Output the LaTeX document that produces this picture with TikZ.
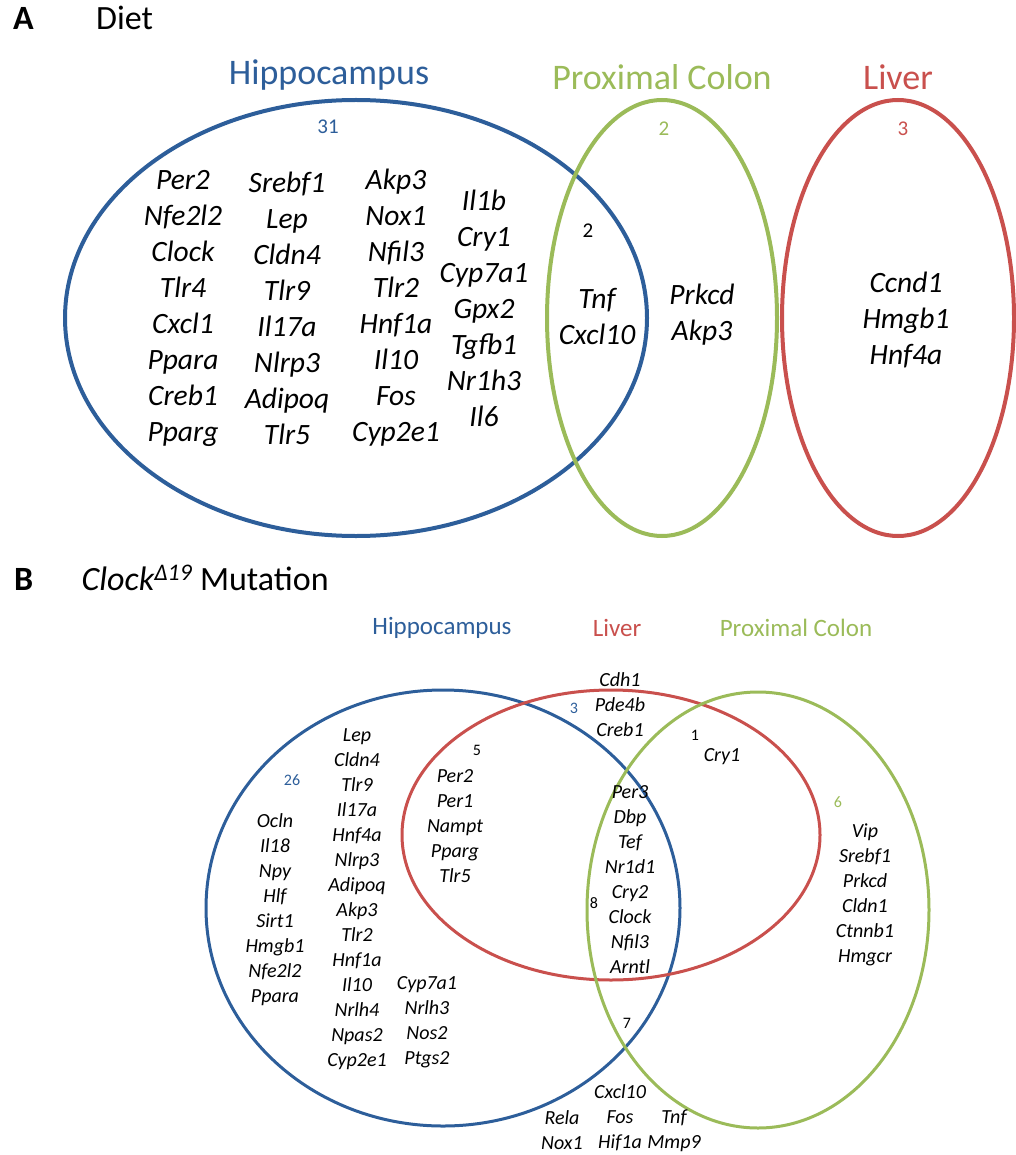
\documentclass[tikz,border=0pt]{standalone}
\usepackage{fontspec}
\setmainfont{Carlito}
\usepackage{tikz}
\usetikzlibrary{positioning}
\definecolor{hipBlue}{HTML}{2D5E9A}
\definecolor{colGreen}{HTML}{9BBB59}
\definecolor{livRed}{HTML}{C9504D}

\begin{document}
\begin{tikzpicture}[x=1pt, y=-1pt,
    ttl/.style={font=\fontsize{34}{36}\selectfont, inner sep=0pt, anchor=base west},
    setA/.style={line width=4pt},
    setB/.style={line width=3pt},
    lblA/.style={font=\fontsize{36}{40}\selectfont, inner sep=0pt},
    lblB/.style={font=\fontsize{25}{28}\selectfont, inner sep=0pt},
    geneA/.style={font=\fontsize{29.5}{36}\selectfont\itshape, align=center, inner sep=0pt},
    geneB/.style={font=\fontsize{20}{25}\selectfont\itshape, align=center, inner sep=0pt},
    numA/.style={font=\fontsize{21}{24}\selectfont, inner sep=0pt},
    numB/.style={font=\fontsize{16}{18}\selectfont, inner sep=0pt},
]
\useasboundingbox (0,0) rectangle (1015,1155);
% panel A
\node[ttl, font=\fontsize{34}{36}\selectfont\bfseries] (pA) at (13,30) {A};
\node[ttl, right=62pt of pA.base east, anchor=base west] (dietT) {Diet};
\draw[setA, hipBlue] (356,318) ellipse [x radius=291, y radius=218];
\draw[setA, colGreen] (662,318) ellipse [x radius=115, y radius=218];
\draw[setA, livRed] (898,318) ellipse [x radius=116, y radius=218];
\node[lblA, text=hipBlue] (hipA) at (329,75) {Hippocampus};
\node[lblA, text=colGreen] (colA) at (662,77) {Proximal Colon};
\node[lblA, text=livRed] (livA) at (898,77) {Liver};
\node[numA, text=hipBlue] (nHipA) at (328,127) {31};
\node[numA, text=colGreen] (nColA) at (664,129) {2};
\node[numA, text=livRed] (nLivA) at (903,129) {3};
\node[numA] (nHcA) at (588,231) {2};
\node[geneA] (gA1) at (183,308) {Per2\\Nfe2l2\\Clock\\Tlr4\\Cxcl1\\Ppara\\Creb1\\Pparg};
\node[geneA] (gA2) at (287,308) {Srebf1\\Lep\\Cldn4\\Tlr9\\Il17a\\Nlrp3\\Adipoq\\Tlr5};
\node[geneA] (gA3) at (396,308) {Akp3\\Nox1\\Nfil3\\Tlr2\\Hnf1a\\Il10\\Fos\\Cyp2e1};
\node[geneA] (gA4) at (484,308) {Il1b\\Cry1\\Cyp7a1\\Gpx2\\Tgfb1\\Nr1h3\\Il6};
\node[geneA] (gHcA) at (597,316) {Tnf\\Cxcl10};
\node[geneA] (gColA) at (702,315) {Prkcd\\Akp3};
\node[geneA] (gLivA) at (906,320) {Ccnd1\\Hmgb1\\Hnf4a};
% panel B
\node[ttl, font=\fontsize{34}{36}\selectfont\bfseries] (pB) at (14,590) {B};
\node[ttl, right=48pt of pB.base east, anchor=base west] (mutT) {{\itshape Clock\textsuperscript{Δ19}} Mutation};
\draw[setB, hipBlue] (443,908) ellipse [x radius=237, y radius=218];
\draw[setB, livRed] (611,835) ellipse [x radius=209, y radius=145];
\draw[setB, colGreen] (758,910) ellipse [x radius=171, y radius=218];
\node[lblB, text=hipBlue] (hipB) at (442,628) {Hippocampus};
\node[lblB, text=livRed] (livB) at (617,628) {Liver};
\node[lblB, text=colGreen] (colB) at (796,628) {Proximal Colon};
\node[numB, text=hipBlue] (nHipB) at (292,780) {26};
\node[numB] (nHlB) at (477,750) {5};
\node[numB, text=hipBlue] (nHlOnlyB) at (574,708) {3};
\node[numB] (nLcB) at (695,735) {1};
\node[numB] (nAllB) at (594,903) {8};
\node[numB, text=colGreen] (nColB) at (838,802) {6};
\node[numB] (nHcB) at (627,1023) {7};
\node[geneB] (gB1) at (275,910) {Ocln\\Il18\\Npy\\Hlf\\Sirt1\\Hmgb1\\Nfe2l2\\Ppara};
\node[geneB] (gB2) at (357,899.5) {Lep\\Cldn4\\Tlr9\\Il17a\\Hnf4a\\Nlrp3\\Adipoq\\Akp3\\Tlr2\\Hnf1a\\Il10\\Nrlh4\\Npas2\\Cyp2e1};
\node[geneB] (gB3) at (427,1022.5) {Cyp7a1\\Nrlh3\\Nos2\\Ptgs2};
\node[geneB] (gHlB) at (455,826) {Per2\\Per1\\Nampt\\Pparg\\Tlr5};
\node[geneB] (gLivB) at (620,705) {Cdh1\\Pde4b\\Creb1};
\node[geneB] (gLcB) at (722,757) {Cry1};
\node[geneB] (gAllB) at (630,879.5) {Per3\\Dbp\\Tef\\Nr1d1\\Cry2\\Clock\\Nfil3\\Arntl};
\node[geneB] (gColB) at (865,894.5) {Vip\\Srebf1\\Prkcd\\Cldn1\\Ctnnb1\\Hmgcr};
\node[geneB] (gOut1) at (562,1130.5) {Rela\\Nox1};
\node[geneB] (gOut2) at (620,1117.5) {Cxcl10\\Fos\\Hif1a};
\node[geneB] (gOut3) at (674,1130.5) {Tnf\\Mmp9};
\end{tikzpicture}
\end{document}
